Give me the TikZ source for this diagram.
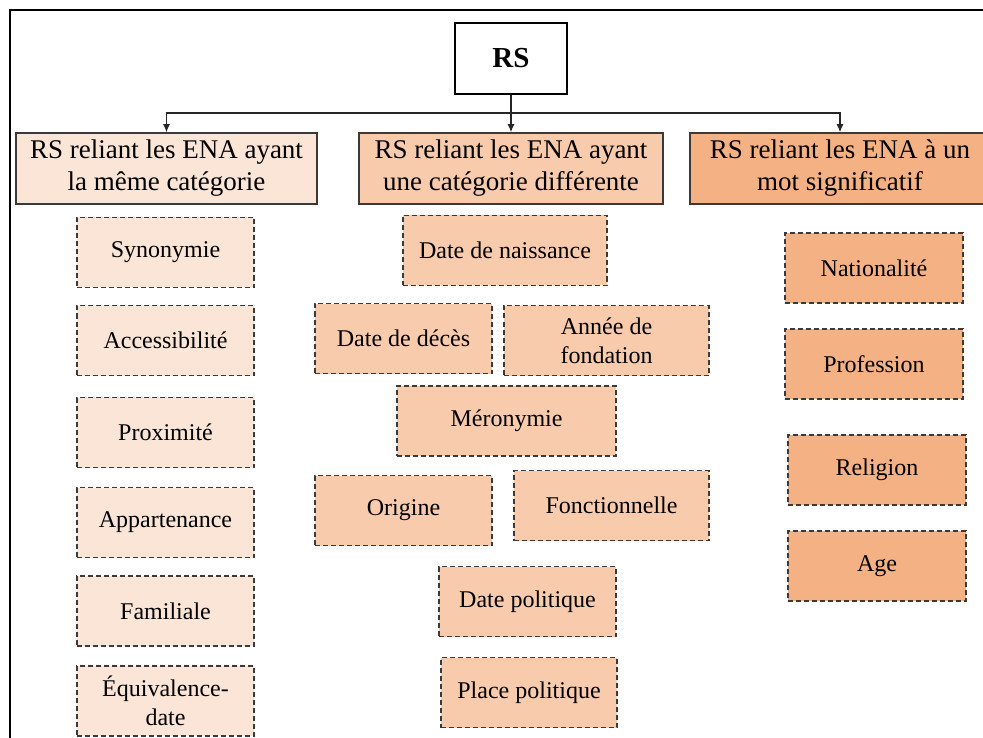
\documentclass[tikz,border=0pt]{standalone}
\usepackage{fontspec}
\setmainfont{Liberation Serif}
\usepackage{tikz}
\usetikzlibrary{arrows.meta, positioning}
\definecolor{peachA}{HTML}{FBE5D6}
\definecolor{peachB}{HTML}{F8CBAD}
\definecolor{peachC}{HTML}{F4B183}
\definecolor{edgegray}{HTML}{3A3A3A}

\begin{document}
\begin{tikzpicture}[x=1pt, y=-1pt,
    head/.style={draw=edgegray, line width=1.5pt, minimum height=71pt, inner sep=0pt,
        align=center, font=\fontsize{27}{32}\selectfont},
    rel/.style={draw=edgegray, dash pattern=on 5pt off 3pt, line width=1.4pt,
        minimum width=177pt, minimum height=70pt, inner sep=0pt,
        align=center, font=\fontsize{24}{29}\selectfont},
    arr/.style={-{Latex[length=8pt,width=7pt]}, line width=1.2pt, draw=black!85}]
    \useasboundingbox (0,0) rectangle (983,738);
    % cadre
    \draw[line width=2pt] (10,760) -- (10,10) -- (1000,10);

    \node[draw, line width=1.5pt, fill=white, minimum width=112pt, minimum height=71pt,
        font=\fontsize{29}{32}\selectfont\bfseries] (rs) at (511,58.5) {RS};

    \node[head, fill=peachA, minimum width=301pt] (meme) at (166.5,168.5) {RS reliant les ENA ayant\\la même catégorie};
    \node[head, fill=peachB, minimum width=304pt] (diff) at (511,168.5) {RS reliant les ENA ayant\\une catégorie différente};
    \node[head, fill=peachC, minimum width=300pt] (mot) at (840,168.5) {RS reliant les ENA à un\\mot significatif};

    \coordinate (bar) at (511,113);
    \draw[arr] (rs.south) -- (diff.north);
    \draw[arr] (bar) -| (meme.north);
    \draw[arr] (bar) -| (mot.north);

    % meme categorie
    \node[rel, fill=peachA] (syn) at (165.5,252.5) {Synonymie};
    \node[rel, fill=peachA] (acc) at (165.5,340.5) {Accessibilité};
    \node[rel, fill=peachA] (prox) at (165.5,432.5) {Proximité};
    \node[rel, fill=peachA] (app) at (165.5,522.5) {Appartenance};
    \node[rel, fill=peachA] (fam) at (165.5,611) {Familiale};
    \node[rel, fill=peachA] (equ) at (165.5,701) {Équivalence-\\date};

    % categorie differente
    \node[rel, fill=peachB, minimum width=204pt] (naiss) at (505,250.5) {Date de naissance};
    \node[rel, fill=peachB] (deces) at (403.5,338.5) {Date de décès};
    \node[rel, fill=peachB, minimum width=205pt] (fond) at (606.5,340.5) {Année de\\fondation};
    \node[rel, fill=peachB, minimum width=219pt] (mero) at (506.5,421) {Méronymie};
    \node[rel, fill=peachB] (orig) at (403.5,510.5) {Origine};
    \node[rel, fill=peachB, minimum width=195pt] (fonc) at (611.5,505.5) {Fonctionnelle};
    \node[rel, fill=peachB] (dpol) at (527.5,601.5) {Date politique};
    \node[rel, fill=peachB, minimum width=176pt] (ppol) at (529,692.5) {Place politique};

    % mot significatif
    \node[rel, fill=peachC, minimum width=178pt] (nat) at (874,268) {Nationalité};
    \node[rel, fill=peachC, minimum width=178pt] (prof) at (874,364) {Profession};
    \node[rel, fill=peachC, minimum width=178pt] (relig) at (877,470) {Religion};
    \node[rel, fill=peachC, minimum width=178pt] (age) at (877,566) {Age};
\end{tikzpicture}
\end{document}
